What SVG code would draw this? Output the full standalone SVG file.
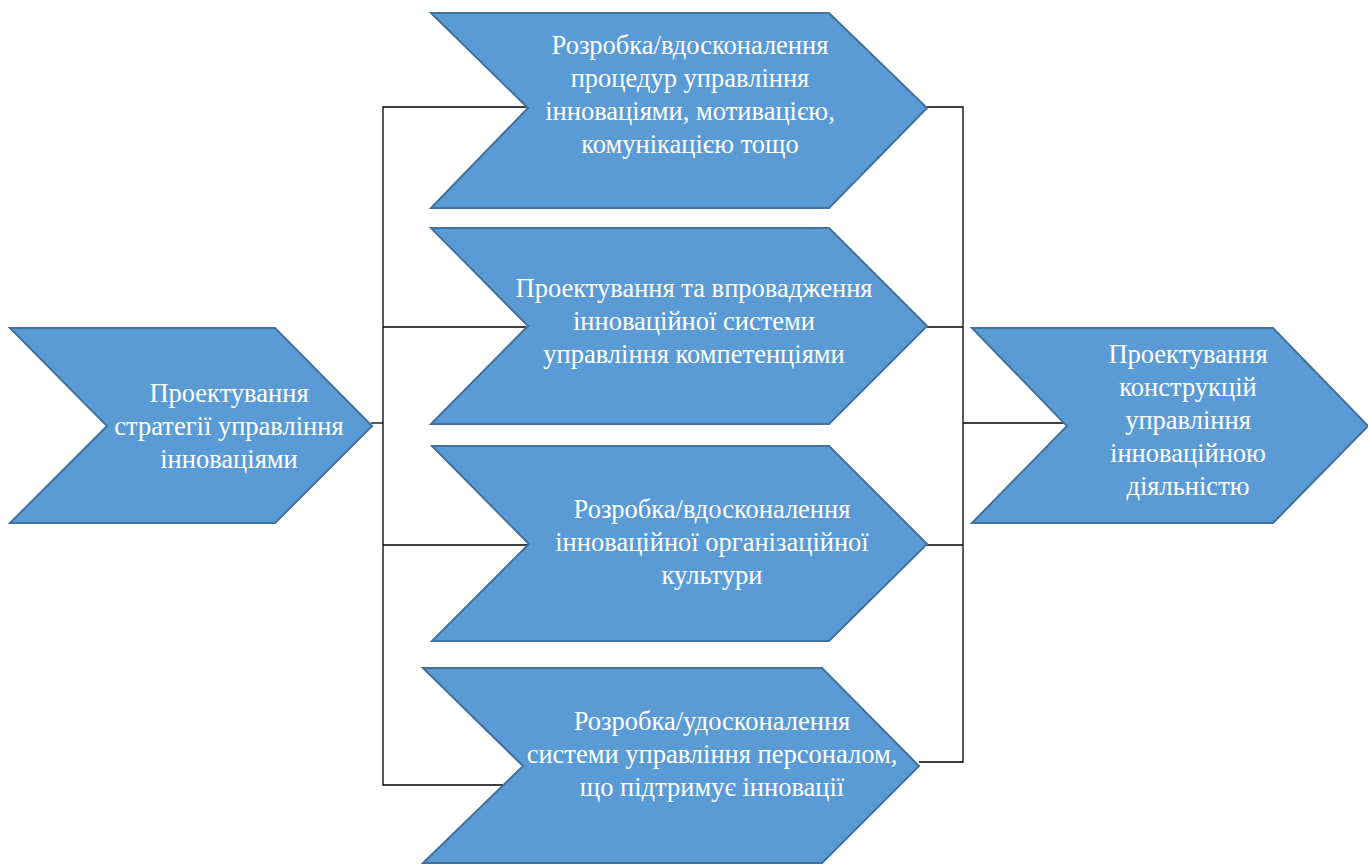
<svg xmlns="http://www.w3.org/2000/svg" width="1368" height="864" viewBox="0 0 1368 864">
<style>
.shape{fill:#5B9BD5;stroke:#41719C;stroke-width:2;stroke-linejoin:miter}
.conn{fill:none;stroke:#000000;stroke-width:1.3}
text{fill:#FFFFFF;font-family:'Liberation Serif','Times New Roman',serif;font-size:26.5px;text-anchor:middle}
</style>
<rect width="1368" height="864" fill="#FFFFFF"/>
<g id="connectors">
<polyline class="conn" points="528,107 383,107 383,785 503,785"/>
<line class="conn" x1="383" y1="327" x2="528" y2="327"/>
<line class="conn" x1="383" y1="545" x2="529" y2="545"/>
<line class="conn" x1="371" y1="423" x2="383" y2="423"/>
<polyline class="conn" points="927,107 963,107 963,762 919,762"/>
<line class="conn" x1="927" y1="327" x2="963" y2="327"/>
<line class="conn" x1="927" y1="545" x2="963" y2="545"/>
<line class="conn" x1="963" y1="423" x2="1067" y2="423"/>
</g>
<g id="node-strategy">
<polygon class="shape" points="10,328 275,328 372,426 275,523 10,523 107,426"/>
<text x="229" y="402">Проектування</text>
<text x="229" y="435">стратегії управління</text>
<text x="229" y="468">інноваціями</text>
</g>
<g id="node-procedures">
<polygon class="shape" points="431,13 829,13 927,108 829,208 431,208 528,108"/>
<text x="690" y="54">Розробка/вдосконалення</text>
<text x="690" y="87">процедур управління</text>
<text x="690" y="120">інноваціями, мотивацією,</text>
<text x="690" y="153">комунікацією тощо</text>
</g>
<g id="node-competencies">
<polygon class="shape" points="431,228 829,228 927,326 829,424 431,424 528,326"/>
<text x="694" y="297">Проектування та впровадження</text>
<text x="694" y="330">інноваційної системи</text>
<text x="694" y="363">управління компетенціями</text>
</g>
<g id="node-culture">
<polygon class="shape" points="432,446 829,446 927,544 829,641 432,641 529,544"/>
<text x="712" y="518">Розробка/вдосконалення</text>
<text x="712" y="551">інноваційної організаційної</text>
<text x="712" y="584">культури</text>
</g>
<g id="node-personnel">
<polygon class="shape" points="423,668 822,668 919,766 822,863 423,863 523,766"/>
<text x="712" y="730">Розробка/удосконалення</text>
<text x="712" y="763">системи управління персоналом,</text>
<text x="712" y="796">що підтримує інновації</text>
</g>
<g id="node-constructions">
<polygon class="shape" points="972,328 1273,328 1368,426 1273,523 972,523 1067,426"/>
<text x="1188" y="363">Проектування</text>
<text x="1188" y="396">конструкцій</text>
<text x="1188" y="429">управління</text>
<text x="1188" y="462">інноваційною</text>
<text x="1188" y="495">діяльністю</text>
</g>
</svg>
